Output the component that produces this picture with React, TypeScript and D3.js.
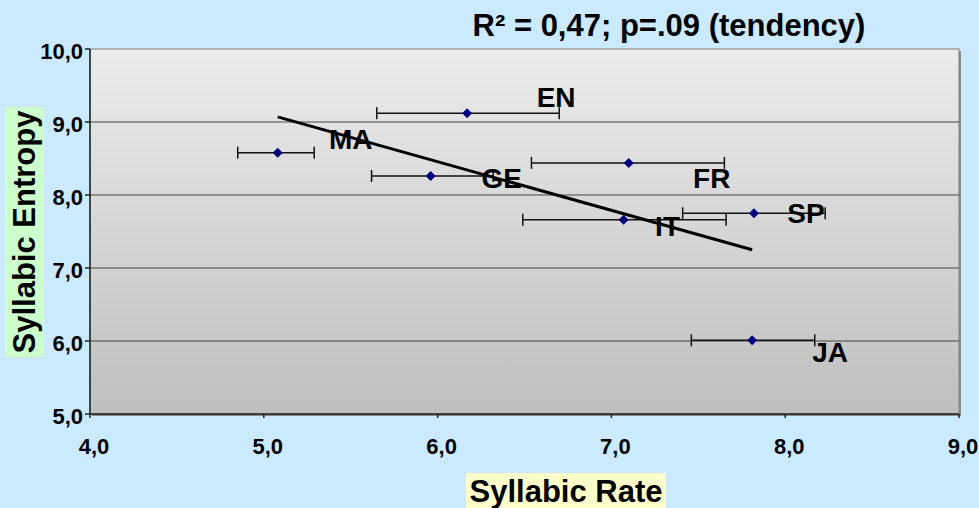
import React from "react";
import * as d3 from "d3";

const languages = ["EN", "MA", "GE", "FR", "IT", "SP", "JA"];
const syllabicRate = [6.17, 5.08, 5.96, 7.10, 7.07, 7.82, 7.81];
const syllabicEntropy = [9.12, 8.58, 8.26, 8.44, 7.66, 7.75, 6.01];
const rateLow = [5.65, 4.85, 5.62, 6.54, 6.49, 7.41, 7.46];
const rateHigh = [6.70, 5.29, 6.32, 7.65, 7.66, 8.23, 8.17];
const trendX = [5.08, 7.81];
const trendY = [9.07, 7.25];
const xTicks = [4, 5, 6, 7, 8, 9];
const yTicks = [5, 6, 7, 8, 9, 10];
const title = "R² = 0,47; p=.09 (tendency)";
const xTitle = "Syllabic Rate";
const yTitle = "Syllabic Entropy";

// label layout offsets (px) relative to each point
const labelOffsets: [number, number][] = [
  [89, -16], [73, -13], [71, 2], [83, 15], [44, 6], [52, 0], [78, 12],
];

const W = 979, H = 508;
const M = { left: 90, right: 959, top: 49, bottom: 414 };

export default function App() {
  const x = d3.scaleLinear().domain([4, 9]).range([M.left, M.right]);
  const y = d3.scaleLinear().domain([5, 10]).range([M.bottom, M.top]);
  const fmt = (v: number) => v.toFixed(1).replace(".", ",");
  const line = d3.line<[number, number]>().x(d => x(d[0])).y(d => y(d[1]));
  const trend: [number, number][] = trendX.map((v, i) => [v, trendY[i]]);
  const font = "Arial, 'Liberation Sans', sans-serif";

  return (
    <svg width={W} height={H} style={{ position: "absolute", left: 0, top: 0, display: "block" }}>
      <defs>
        <linearGradient id="bg" x1="0" y1="0" x2="0" y2="1">
          <stop offset="0%" stopColor="#ececec" />
          <stop offset="100%" stopColor="#bfbfbf" />
        </linearGradient>
      </defs>
      <rect x={0} y={0} width={W} height={H} fill="#cceaff" />
      {/* shadow */}
      <rect x={M.left + 2} y={M.top + 2} width={M.right - M.left} height={M.bottom - M.top} fill="#8a8a8a" />
      <rect x={M.left} y={M.top} width={M.right - M.left} height={M.bottom - M.top} fill="url(#bg)" stroke="#808080" strokeWidth={1} />
      {/* gridlines */}
      {yTicks.filter(t => t > 5 && t < 10).map(t => (
        <line key={t} x1={M.left} x2={M.right} y1={y(t)} y2={y(t)} stroke="#444" strokeWidth={1.2} />
      ))}
      {/* axes */}
      <line x1={M.left} x2={M.left} y1={M.top} y2={M.bottom} stroke="#222" strokeWidth={1.5} />
      <line x1={M.left} x2={M.right} y1={M.bottom} y2={M.bottom} stroke="#222" strokeWidth={1.5} />
      {yTicks.map(t => (
        <g key={t}>
          <line x1={M.left - 5} x2={M.left} y1={y(t)} y2={y(t)} stroke="#222" strokeWidth={1.5} />
          <text x={M.left - 7} y={y(t) + 2} dy="0.35em" textAnchor="end" fontFamily={font} fontWeight="bold" fontSize={22}>{fmt(t)}</text>
        </g>
      ))}
      {xTicks.map(t => (
        <g key={t}>
          <line x1={x(t)} x2={x(t)} y1={M.bottom} y2={M.bottom + 4} stroke="#222" strokeWidth={1.5} />
          <text x={x(t) + 4} y={M.bottom + 40} textAnchor="middle" fontFamily={font} fontWeight="bold" fontSize={22}>{fmt(t)}</text>
        </g>
      ))}
      {/* error bars */}
      {languages.map((l, i) => (
        <g key={l} stroke="#111" strokeWidth={1.5}>
          <line x1={x(rateLow[i])} x2={x(rateHigh[i])} y1={y(syllabicEntropy[i])} y2={y(syllabicEntropy[i])} />
          <line x1={x(rateLow[i])} x2={x(rateLow[i])} y1={y(syllabicEntropy[i]) - 6} y2={y(syllabicEntropy[i]) + 6} />
          <line x1={x(rateHigh[i])} x2={x(rateHigh[i])} y1={y(syllabicEntropy[i]) - 6} y2={y(syllabicEntropy[i]) + 6} />
        </g>
      ))}
      {/* trend line */}
      <path d={line(trend) || ""} fill="none" stroke="#000" strokeWidth={3} />
      {/* points */}
      {languages.map((l, i) => {
        const cx = x(syllabicRate[i]), cy = y(syllabicEntropy[i]);
        return <path key={l} d={`M${cx},${cy - 5}L${cx + 5},${cy}L${cx},${cy + 5}L${cx - 5},${cy}Z`} fill="#000080" />;
      })}
      {/* labels */}
      {languages.map((l, i) => (
        <text key={l} x={x(syllabicRate[i]) + labelOffsets[i][0]} y={y(syllabicEntropy[i]) + labelOffsets[i][1]} dy="0.35em"
          textAnchor="middle" fontFamily={font} fontWeight="bold" fontSize={28}>{l}</text>
      ))}
      {/* title */}
      <text x={669} y={25} dy="0.35em" textAnchor="middle" fontFamily={font} fontWeight="bold" fontSize={31}>{title}</text>
      {/* x title */}
      <rect x={466} y={473} width={200} height={35} fill="#ffffcc" />
      <text x={566} y={491} dy="0.35em" textAnchor="middle" fontFamily={font} fontWeight="bold" fontSize={31}>{xTitle}</text>
      {/* y title */}
      <g transform="translate(24.5,232) rotate(-90)">
        <rect x={-125} y={-19.5} width={250} height={39} fill="#ccffcc" />
        <text x={0} y={0} dy="0.35em" textAnchor="middle" fontFamily={font} fontWeight="bold" fontSize={31}>{yTitle}</text>
      </g>
    </svg>
  );
}
